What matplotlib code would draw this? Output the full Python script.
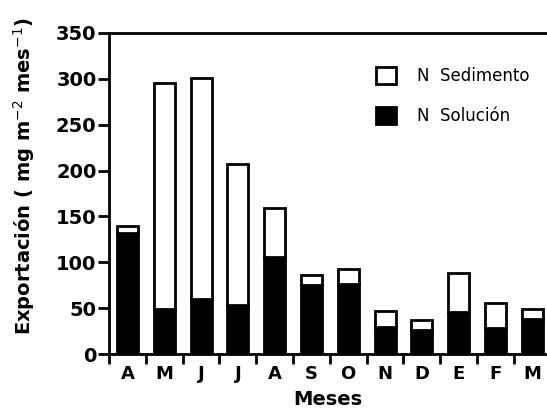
import matplotlib
matplotlib.use("Agg")
import matplotlib.pyplot as plt
from matplotlib.patches import Patch
import numpy as np

months = ["A", "M", "J", "J", "A", "S", "O", "N", "D", "E", "F", "M"]
n_solucion = [132, 49, 60, 53, 106, 75, 76, 29, 26, 46, 28, 38]
n_total = [140, 295, 301, 207, 159, 86, 93, 47, 37, 88, 56, 49]
n_sedimento = [t - s for t, s in zip(n_total, n_solucion)]
yticks = [0, 50, 100, 150, 200, 250, 300, 350]

W, H = 547, 415
fig = plt.figure(figsize=(W / 100, H / 100), dpi=100)
ax = fig.add_axes([109 / W, 1 - 354 / H, (547 - 109) / W, (354 - 33) / H])

x = np.arange(len(months))
ax.bar(x, n_solucion, width=0.57, color="black", edgecolor="black", linewidth=2)
ax.bar(x, n_sedimento, bottom=n_solucion, width=0.57, color="white",
       edgecolor="black", linewidth=2)

ax.set_xlim(-0.5, 11.4)
ax.set_ylim(0, 350)
ax.spines["right"].set_visible(False)
for s in ["left", "top", "bottom"]:
    ax.spines[s].set_linewidth(2)

ax.set_yticks(yticks)
ax.set_yticklabels([str(v) for v in yticks], fontsize=14, fontweight="bold")
ax.tick_params(axis="y", direction="out", length=8, width=2, pad=1)

ax.set_xticks(x)
ax.set_xticklabels(months, fontsize=13, fontweight="bold")
ax.tick_params(axis="x", which="major", length=0, pad=8)
ax.set_xticks(np.arange(-0.5, 11.5, 1.0), minor=True)
ax.tick_params(axis="x", which="minor", direction="out", length=7, width=2)

ax.set_xlabel("Meses", fontsize=14, fontweight="bold", labelpad=5)
ax.set_ylabel("Exportación ( mg m$^{-2}$ mes$^{-1}$)", fontsize=14,
              fontweight="bold")
ax.yaxis.set_label_coords(-0.165, 0.555)

handles = [Patch(facecolor="white", edgecolor="black", linewidth=2),
           Patch(facecolor="black", edgecolor="black", linewidth=2)]
ax.legend(handles, ["N  Sedimento", "N  Solución"], loc="upper right",
          bbox_to_anchor=(0.995, 0.94), frameon=False, fontsize=12,
          handlelength=1.2, handleheight=1.2, labelspacing=1.3,
          handletextpad=1.3)

fig.savefig("out.png", dpi=100)
